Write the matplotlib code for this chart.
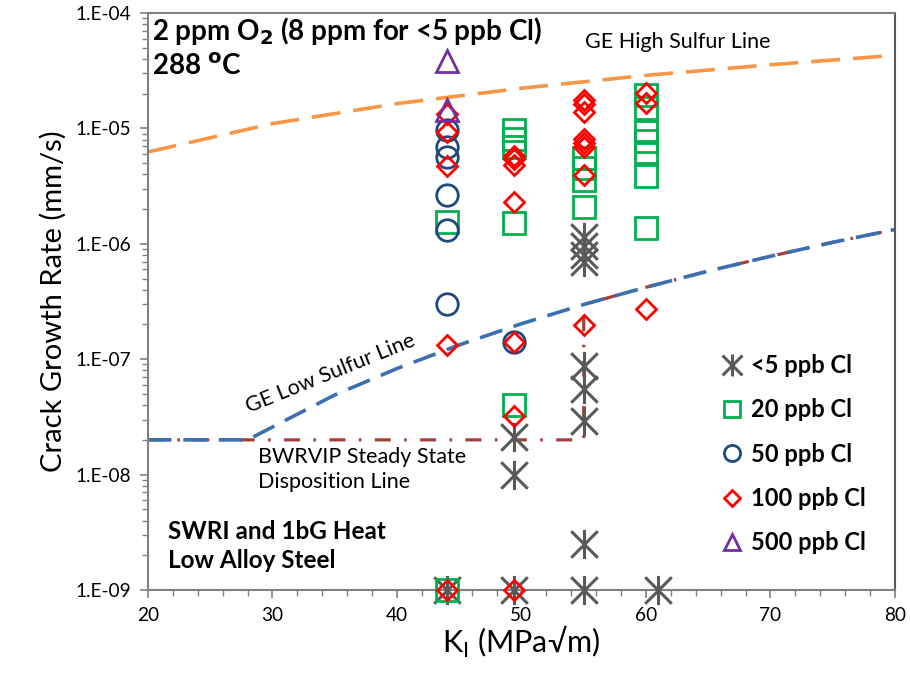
import matplotlib
matplotlib.use("Agg")
import matplotlib.pyplot as plt
from matplotlib.path import Path
import numpy as np

plt.rcParams['font.family'] = ['Lato', 'DejaVu Sans']

# ---------------- data ----------------
k_lt5 = [49.4, 49.4, 55, 55, 55, 55, 55, 55, 55, 55, 49.4, 44, 55, 61]
r_lt5 = [2.1e-8, 1.0e-8, 1.15e-6, 9.5e-7, 8.0e-7, 6.9e-7, 8.7e-8, 5.5e-8, 2.9e-8, 2.5e-9, 1e-9, 1e-9, 1e-9, 1e-9]

k_20 = [44, 44, 49.4, 49.4, 49.4, 49.4, 49.4, 55, 55, 55, 55, 60, 60, 60, 60, 60, 60, 60]
r_20 = [1.56e-6, 1e-9, 9.7e-6, 8.1e-6, 6.9e-6, 1.52e-6, 4.0e-8, 5.5e-6, 4.5e-6, 3.6e-6, 2.1e-6,
        1.95e-5, 1.49e-5, 9.35e-6, 7.7e-6, 6.3e-6, 3.9e-6, 1.38e-6]

k_50 = [44, 44, 44, 44, 44, 44, 49.4]
r_50 = [9.7e-6, 6.9e-6, 5.7e-6, 2.65e-6, 1.32e-6, 3.0e-7, 1.4e-7]

k_100 = [44, 44, 44, 44, 44, 49.4, 49.4, 49.4, 49.4, 49.4, 49.4, 49.4,
         55, 55, 55, 55, 55, 55, 55, 55, 60, 60, 60]
r_100 = [1.33e-5, 9.4e-6, 4.7e-6, 1.32e-7, 1e-9, 5.75e-6, 5.4e-6, 4.8e-6, 2.29e-6, 1.4e-7, 3.2e-8, 1e-9,
         1.76e-5, 1.62e-5, 1.4e-5, 8.1e-6, 7.4e-6, 6.95e-6, 3.95e-6, 1.98e-7, 2.04e-5, 1.65e-5, 2.7e-7]

k_500 = [44, 44]
r_500 = [3.8e-5, 1.44e-5]

# reference lines
ge_high_k = [20, 30, 40, 50, 60, 70, 80]
ge_high_r = [6.25e-6, 1.10e-5, 1.64e-5, 2.23e-5, 2.88e-5, 3.56e-5, 4.3e-5]

ge_low_k = [20, 28, 35, 40, 45, 50, 55, 60, 65, 70, 75, 80]
ge_low_r = [2e-8, 2e-8, 4.9e-8, 8.3e-8, 1.33e-7, 2.03e-7, 2.98e-7, 4.2e-7, 5.8e-7, 7.8e-7, 1.03e-6, 1.33e-6]

bwr_k = [20, 55, 55, 60, 65, 70, 75, 80]
bwr_r = [2e-8, 2e-8, 2.98e-7, 4.2e-7, 5.8e-7, 7.8e-7, 1.03e-6, 1.33e-6]

yticks = [1e-9, 1e-8, 1e-7, 1e-6, 1e-5, 1e-4]
ytick_labels = ['1.E-09', '1.E-08', '1.E-07', '1.E-06', '1.E-05', '1.E-04']
xticks = [20, 30, 40, 50, 60, 70, 80]

# ---------------- figure ----------------
fig = plt.figure(figsize=(9.1, 6.77), dpi=100)
ax = fig.add_axes([0.1626, 0.1285, 0.8209, 0.8523])
ax.set_yscale('log')
ax.set_xlim(20, 80)
ax.set_ylim(1e-9, 1e-4)

# asterisk marker: X plus vertical line
ast = Path([(-0.5, -0.5), (0.5, 0.5), (-0.5, 0.5), (0.5, -0.5), (0, -0.55), (0, 0.55)],
           [Path.MOVETO, Path.LINETO, Path.MOVETO, Path.LINETO, Path.MOVETO, Path.LINETO])

c_orange = '#F79646'
c_blue = '#3D6EAE'
c_red_line = '#A0403C'

ax.plot(ge_high_k, ge_high_r, color=c_orange, lw=2.6, dashes=(8, 3.6), solid_capstyle='round', zorder=2)
ax.plot(bwr_k, bwr_r, color=c_red_line, lw=2.3, dashes=(5, 4.2, 0.8, 4.2), zorder=2)
ax.plot(ge_low_k, ge_low_r, color=c_blue, lw=2.6, dashes=(6.5, 3.3), zorder=2.1)

kw = dict(linestyle='none', clip_on=False, zorder=3)
ax.plot(k_lt5, r_lt5, marker=ast, ms=21, mew=2.2, mec='#595959', mfc='none', label='<5 ppb Cl', **kw)
ax.plot(k_20, r_20, marker='s', ms=15.5, mew=2.0, mec='#00B050', mfc='none', label='20 ppb Cl', **kw)
ax.plot(k_50, r_50, marker='o', ms=15.5, mew=2.0, mec='#1F497D', mfc='none', label='50 ppb Cl', **kw)
ax.plot(k_100, r_100, marker='D', ms=10.5, mew=2.0, mec='#FF0000', mfc='none', label='100 ppb Cl', **kw)
ax.plot(k_500, r_500, marker='^', ms=15.5, mew=2.0, mec='#7030A0', mfc='none', label='500 ppb Cl', **kw)

# axes styling
for s in ['left', 'bottom', 'top', 'right']:
    ax.spines[s].set_color('#808080')
    ax.spines[s].set_linewidth(1.5)
ax.spines['right'].set_color('#595959')
ax.set_xticks(xticks)
ax.set_xticklabels([str(x) for x in xticks])
ax.set_yticks(yticks)
ax.set_yticklabels(ytick_labels)
ax.xaxis.set_minor_locator(matplotlib.ticker.MultipleLocator(2))
ax.yaxis.set_minor_locator(matplotlib.ticker.LogLocator(base=10, subs=np.arange(2, 10)))
ax.yaxis.set_minor_formatter(matplotlib.ticker.NullFormatter())
ax.tick_params(axis='both', which='major', direction='out', length=6, width=1.2, color='#808080',
               labelsize=13.7, pad=6)
ax.tick_params(axis='both', which='minor', direction='out', length=4, width=1.0, color='#808080')
ax.tick_params(top=False, right=False, which='both')

ax.set_xlabel(r'K$_{\mathregular{I}}$ (MPa√m)', fontsize=22, labelpad=0)
ax.set_ylabel('Crack Growth Rate (mm/s)', fontsize=21, labelpad=6)

# annotations
ax.text(0.005, 0.997, r'2 ppm O$_\mathbf{2}$ (8 ppm for <5 ppb Cl)' + '\n' + r'288 $^\mathbf{o}$C',
        transform=ax.transAxes, fontsize=20, fontweight='bold', va='top', ha='left', linespacing=1.32)
ax.text(0.585, 0.950, 'GE High Sulfur Line', transform=ax.transAxes, fontsize=15.5, va='center', ha='left')
ax.text(0.244, 0.375, 'GE Low Sulfur Line', transform=ax.transAxes, fontsize=15.5, va='center', ha='center',
        rotation=22)
ax.text(0.147, 0.247, 'BWRVIP Steady State\nDisposition Line', transform=ax.transAxes, fontsize=15.5,
        va='top', ha='left', linespacing=1.3)
ax.text(0.027, 0.122, 'SWRI and 1bG Heat\nLow Alloy Steel', transform=ax.transAxes, fontsize=17.5,
        fontweight='bold', va='top', ha='left', linespacing=1.35)

leg = ax.legend(loc='upper left', bbox_to_anchor=(0.757, 0.425), frameon=False, markerscale=0.75,
                handlelength=0.8, handletextpad=0.4, labelspacing=0.9, prop={'weight': 'bold', 'size': 17},
                borderaxespad=0)

fig.savefig('out.png', dpi=100)
